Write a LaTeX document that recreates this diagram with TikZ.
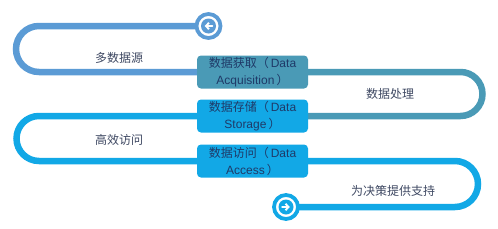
\documentclass[tikz,border=0pt]{standalone}
\usepackage{fontspec}
\setmainfont{Liberation Sans}
\newfontfamily\cjk{Noto Sans CJK SC}
\usetikzlibrary{arrows.meta, backgrounds}

\definecolor{trackblue}{HTML}{5B9BD5}
\definecolor{trackteal}{HTML}{4A9AB6}
\definecolor{trackcyan}{HTML}{12A8E6}
\definecolor{boxtext}{HTML}{1F3A68}
\definecolor{labeltext}{HTML}{3E4862}

\begin{document}
\begin{tikzpicture}[x=1pt, y=-1pt,
    track/.style={line width=6.5pt},
    stagebox/.style={rounded corners=4pt, minimum width=111pt, minimum height=33pt,
      inner sep=1pt, align=center, text=boxtext, font=\fontsize{12}{17}\selectfont},
    endring/.style={circle, fill=white, line width=3.8pt, minimum size=24pt, inner sep=0pt},
    enddisc/.style={circle, minimum size=15pt, inner sep=0pt},
    tiplabel/.style={text=labeltext, font=\cjk\fontsize{12}{14}\selectfont}]
  \useasboundingbox (0,0) rectangle (498,228);

  % --- Stages ---
  \node[stagebox, fill=trackteal] (acq) at (252.5,72)  {{\cjk 数据获取（}\,Data\\Acquisition\,{\cjk ）}};
  \node[stagebox, fill=trackcyan] (sto) at (252.5,116) {{\cjk 数据存储（}\,Data\\Storage\,{\cjk ）}};
  \node[stagebox, fill=trackcyan] (acc) at (252.5,161) {{\cjk 数据访问（}\,Data\\Access\,{\cjk ）}};

  % --- Start and finish marks ---
  \node[endring, draw=trackblue] (start) at (208.5,26) {};
  \node[enddisc, fill=trackblue] (startdisc) at (start) {};
  \draw[white, line width=1.9pt, line cap=round, -{Straight Barb[length=3pt,width=6.5pt]}]
    ([xshift=3.8pt]startdisc.center) -- ([xshift=-3.8pt]startdisc.center);
  \node[endring, draw=trackcyan] (finish) at (286,207) {};
  \node[enddisc, fill=trackcyan] (finishdisc) at (finish) {};
  \draw[white, line width=1.9pt, line cap=round, -{Straight Barb[length=3pt,width=6.5pt]}]
    ([xshift=-3.8pt]finishdisc.center) -- ([xshift=3.8pt]finishdisc.center);

  % --- Tracks ---
  \begin{scope}[on background layer]
    \draw[track, trackblue] (start.center) -- (39,26)
      arc[start angle=270, end angle=90, radius=23] -- (acq.west);
    \draw[track, trackteal] (acq.east) -- (460.5,72)
      arc[start angle=-90, end angle=90, radius=22] -- (sto.east);
    \draw[track, trackcyan] (sto.west) -- (39,116)
      arc[start angle=270, end angle=90, radius=22.5] -- (acc.west);
    \draw[track, trackcyan] (acc.east) -- (455,161)
      arc[start angle=-90, end angle=90, radius=23] -- (finish.center);
  \end{scope}

  % --- Labels ---
  \node[tiplabel] (srclabel) at (119,58)  {多数据源};
  \node[tiplabel] (proclabel) at (390,94) {数据处理};
  \node[tiplabel] (acclabel) at (119,140) {高效访问};
  \node[tiplabel] (declabel) at (393,191) {为决策提供支持};
\end{tikzpicture}
\end{document}
